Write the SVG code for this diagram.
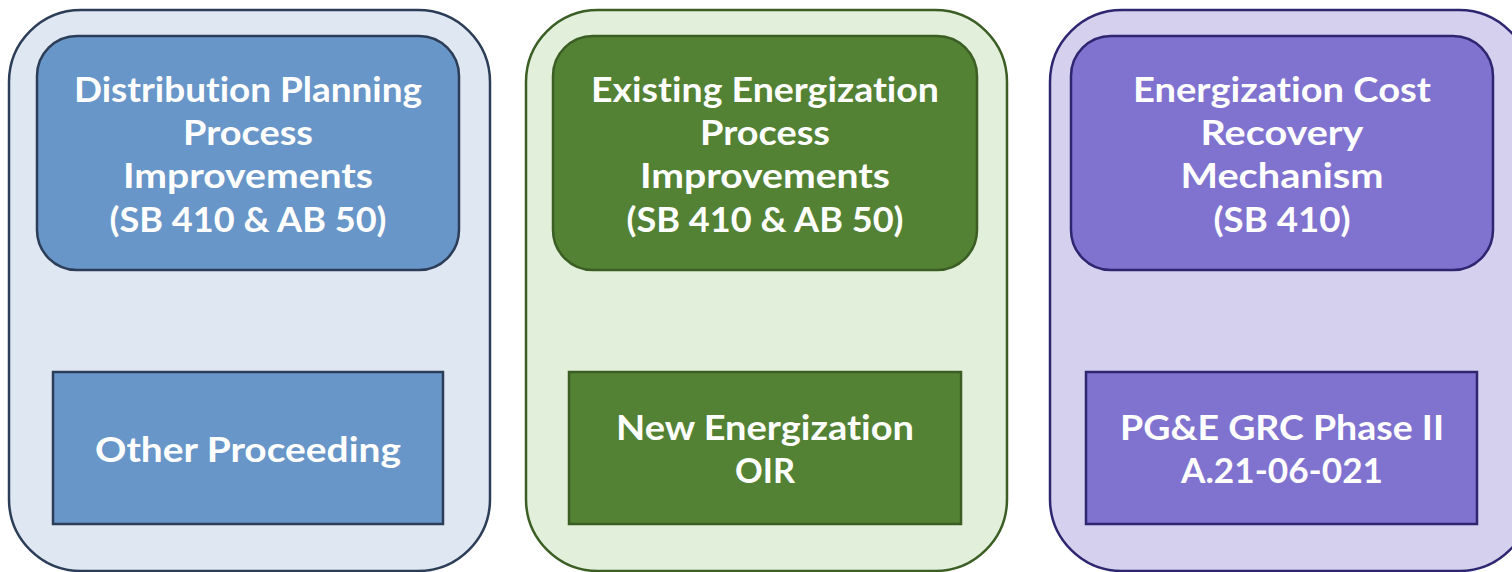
<svg xmlns="http://www.w3.org/2000/svg" width="1512" height="572" viewBox="0 0 1512 572">
<style>
text{font-family:"Century Gothic","Lato","Liberation Sans",sans-serif;font-weight:bold;font-size:35px;fill:#ffffff;text-anchor:middle;font-variant-ligatures:none}
.stroke{stroke-width:2.5}
.b-panel{fill:#DFE7F3;stroke:#2C3E57}
.b-box{fill:#6996C8;stroke:#2C3E57}
.g-panel{fill:#E2EFDA;stroke:#3B5E24}
.g-box{fill:#548235;stroke:#3B5E24}
.p-panel{fill:#D5D0EE;stroke:#2E2670}
.p-box{fill:#8073CF;stroke:#2E2670}
</style>
<rect width="1512" height="572" fill="#ffffff"/>
<g id="panel-distribution">
<rect class="b-panel stroke" x="9" y="10" width="481" height="561" rx="72" ry="72"/>
</g>
<g id="node-distribution-planning">
<rect class="b-box stroke" x="37" y="36" width="422" height="234" rx="40" ry="40"/>
<text x="248" y="102" textLength="348" lengthAdjust="spacingAndGlyphs">Distribution Planning</text>
<text x="248" y="145" textLength="130" lengthAdjust="spacingAndGlyphs">Process</text>
<text x="248" y="188" textLength="250" lengthAdjust="spacingAndGlyphs">Improvements</text>
<text x="248" y="232" textLength="277" lengthAdjust="spacingAndGlyphs">(SB 410 &amp; AB 50)</text>
</g>
<g id="node-other-proceeding">
<rect class="b-box stroke" x="53" y="372" width="390" height="152"/>
<text x="248" y="462" textLength="306" lengthAdjust="spacingAndGlyphs">Other Proceeding</text>
</g>
<g id="panel-energization">
<rect class="g-panel stroke" x="526" y="10" width="481" height="561" rx="72" ry="72"/>
</g>
<g id="node-existing-energization">
<rect class="g-box stroke" x="553" y="36" width="424" height="234" rx="40" ry="40"/>
<text x="765" y="102" textLength="348" lengthAdjust="spacingAndGlyphs">Existing Energization</text>
<text x="765" y="145" textLength="130" lengthAdjust="spacingAndGlyphs">Process</text>
<text x="765" y="188" textLength="250" lengthAdjust="spacingAndGlyphs">Improvements</text>
<text x="765" y="232" textLength="277" lengthAdjust="spacingAndGlyphs">(SB 410 &amp; AB 50)</text>
</g>
<g id="node-new-energization-oir">
<rect class="g-box stroke" x="569" y="372" width="392" height="152"/>
<text x="765" y="440" textLength="298" lengthAdjust="spacingAndGlyphs">New Energization</text>
<text x="765" y="483" textLength="60" lengthAdjust="spacingAndGlyphs">OIR</text>
</g>
<g id="panel-cost-recovery">
<rect class="p-panel stroke" x="1050" y="10" width="481" height="561" rx="72" ry="72"/>
</g>
<g id="node-cost-recovery">
<rect class="p-box stroke" x="1071" y="36" width="422" height="234" rx="40" ry="40"/>
<text x="1282" y="102" textLength="298" lengthAdjust="spacingAndGlyphs">Energization Cost</text>
<text x="1282" y="145" textLength="163" lengthAdjust="spacingAndGlyphs">Recovery</text>
<text x="1282" y="188" textLength="203" lengthAdjust="spacingAndGlyphs">Mechanism</text>
<text x="1282" y="232" textLength="137" lengthAdjust="spacingAndGlyphs">(SB 410)</text>
</g>
<g id="node-pge-grc">
<rect class="p-box stroke" x="1086" y="372" width="391" height="152"/>
<text x="1282" y="440" textLength="324" lengthAdjust="spacingAndGlyphs">PG&amp;E GRC Phase II</text>
<text x="1282" y="483" textLength="202" lengthAdjust="spacingAndGlyphs">A.21-06-021</text>
</g>
<g id="connectors"/>
</svg>
